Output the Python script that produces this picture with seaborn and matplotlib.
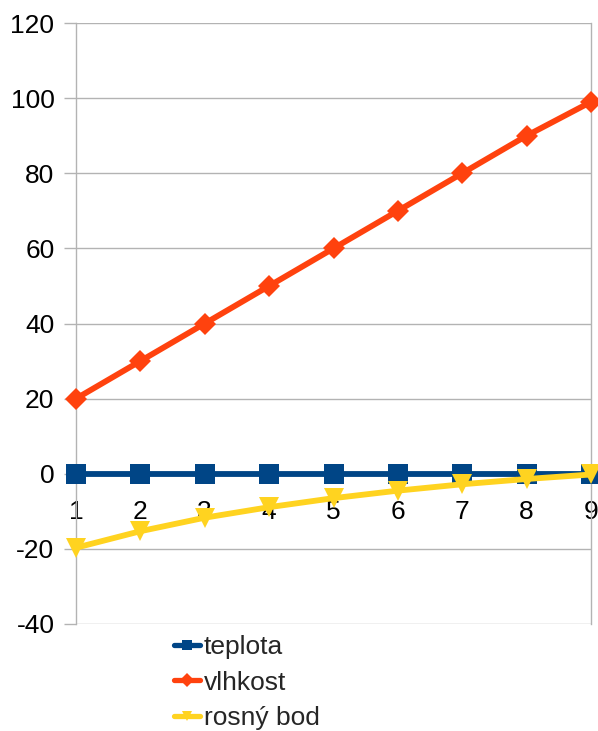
import matplotlib
matplotlib.use("Agg")
import matplotlib.pyplot as plt
import seaborn as sns
import pandas as pd

# Measurement index and the three series
x_values = [1, 2, 3, 4, 5, 6, 7, 8, 9]
teplota = [0, 0, 0, 0, 0, 0, 0, 0, 0]
vlhkost = [20, 30, 40, 50, 60, 70, 80, 90, 99]
rosny_bod = [-19.7, -15.3, -11.7, -8.9, -6.5, -4.5, -2.8, -1.4, -0.2]

series_names = ["teplota", "vlhkost", "rosný bod"]
series_colors = ["#004586", "#ff420e", "#ffd320"]
series_markers = ["s", "D", "v"]
y_ticks = [-40, -20, 0, 20, 40, 60, 80, 100, 120]

sns.set_theme(style="white")
plt.rcParams["font.family"] = ["Liberation Sans", "DejaVu Sans"]

df = pd.DataFrame({
    "x": x_values * 3,
    "value": teplota + vlhkost + rosny_bod,
    "series": [n for n in series_names for _ in x_values],
})

fig = plt.figure(figsize=(5.98, 7.31), dpi=100)
ax = fig.add_axes([0.1271, 0.1464, 0.8612, 0.8221])

palette = dict(zip(series_names, series_colors))
markers = dict(zip(series_names, series_markers))
sizes = {"teplota": 14.5, "vlhkost": 11.5, "rosný bod": 14.5}

for name in series_names:
    sub = df[df["series"] == name]
    sns.lineplot(data=sub, x="x", y="value", ax=ax, color=palette[name],
                 marker=markers[name], markersize=sizes[name],
                 markeredgewidth=0, linewidth=4.2, label=name,
                 clip_on=False, zorder=3)

ax.set_xlim(1, 9)
ax.set_ylim(-40, 120)
ax.set_yticks(y_ticks)
ax.set_yticklabels([str(t) for t in y_ticks])
ax.set_xticks(x_values)
ax.set_xticklabels([str(v) for v in x_values])
ax.set_xlabel("")
ax.set_ylabel("")

grid_color = "#b3b3b3"
ax.yaxis.grid(True, color=grid_color, linewidth=1)
ax.xaxis.grid(False)

# x axis crosses at zero; only its labels are shown
ax.spines["bottom"].set_position(("data", 0))
ax.spines["bottom"].set_visible(False)
ax.spines["top"].set_visible(False)
for side in ("left", "right"):
    ax.spines[side].set_color(grid_color)
    ax.spines[side].set_linewidth(1)

ax.tick_params(axis="x", length=0, pad=19, labelsize=19, colors="black")
ax.tick_params(axis="y", length=9, width=1, color=grid_color, pad=6.5,
               labelsize=19, labelcolor="black", left=True)

handles, labels = ax.get_legend_handles_labels()
if ax.legend_:
    ax.legend_.remove()
leg = fig.legend(handles, labels, loc="upper left",
                 bbox_to_anchor=(0.291, 0.131), frameon=False,
                 fontsize=19, handlelength=0.98, handletextpad=0.15,
                 labelspacing=0.43, borderaxespad=0, borderpad=0)
for h in leg.legend_handles:
    h.set_markersize(7.5)
    h.set_linewidth(3.8)

fig.savefig("out.png", dpi=100)
